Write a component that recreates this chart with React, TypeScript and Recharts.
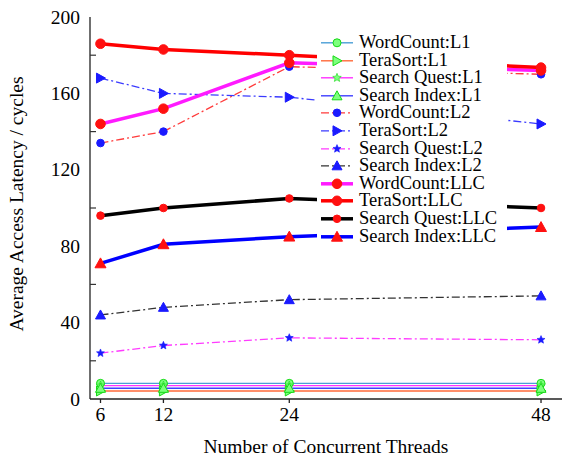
import { LineChart, Line, XAxis, YAxis, Legend } from "recharts";

const threads = [6, 12, 24, 48];

const wordCountL1 = [8.2, 8.2, 8.2, 8.2];
const teraSortL1 = [4.2, 4.2, 4.2, 4.2];
const searchQuestL1 = [7, 7, 7, 7];
const searchIndexL1 = [5.6, 5.6, 5.6, 5.6];

const wordCountL2 = [134, 140, 174, 170];
const teraSortL2 = [168, 160, 158, 144];
const searchQuestL2 = [24, 28, 32, 31];
const searchIndexL2 = [44, 48, 52, 54];

const wordCountLLC = [144, 152, 176, 172];
const teraSortLLC = [186, 183, 180, 173.5];
const searchQuestLLC = [96, 100, 105, 100];
const searchIndexLLC = [71, 81, 85, 90];

const yTicks = [0, 20, 40, 60, 80, 100, 120, 140, 160, 180, 200];

const FONT = "Liberation Serif, Tinos, DejaVu Serif, Noto Serif, serif";
const DASH = "8 3 2 3";

type Shape = "circle" | "triangle" | "right" | "star";

interface SeriesDef {
  key: string;
  name: string;
  values: number[];
  color: string;
  width: number;
  dash?: string;
  shape: Shape;
  size: number;
  fill: string;
  stroke: string;
}

const L1_FILL = "#7dff7d";
const L1_STROKE = "#16d916";

const series: SeriesDef[] = [
  { key: "wcL1", name: "WordCount:L1", values: wordCountL1, color: "#4a9fd6", width: 1.4, shape: "circle", size: 4, fill: L1_FILL, stroke: L1_STROKE },
  { key: "tsL1", name: "TeraSort:L1", values: teraSortL1, color: "#ff6a3a", width: 1.4, shape: "right", size: 5, fill: L1_FILL, stroke: L1_STROKE },
  { key: "sqL1", name: "Search Quest:L1", values: searchQuestL1, color: "#ff33ff", width: 1.4, shape: "star", size: 4.5, fill: L1_FILL, stroke: L1_STROKE },
  { key: "siL1", name: "Search Index:L1", values: searchIndexL1, color: "#3f3fff", width: 1.4, shape: "triangle", size: 5, fill: L1_FILL, stroke: L1_STROKE },
  { key: "wcL2", name: "WordCount:L2", values: wordCountL2, color: "#ff3b3b", width: 1.3, dash: DASH, shape: "circle", size: 3.8, fill: "#1a1aff", stroke: "#1a1aff" },
  { key: "tsL2", name: "TeraSort:L2", values: teraSortL2, color: "#3b3bff", width: 1.3, dash: DASH, shape: "right", size: 5, fill: "#1a1aff", stroke: "#1a1aff" },
  { key: "sqL2", name: "Search Quest:L2", values: searchQuestL2, color: "#ff3bff", width: 1.3, dash: DASH, shape: "star", size: 4.2, fill: "#1a1aff", stroke: "#1a1aff" },
  { key: "siL2", name: "Search Index:L2", values: searchIndexL2, color: "#333333", width: 1.3, dash: DASH, shape: "triangle", size: 5, fill: "#1a1aff", stroke: "#1a1aff" },
  { key: "wcLLC", name: "WordCount:LLC", values: wordCountLLC, color: "#ff1aff", width: 3.5, shape: "circle", size: 4.8, fill: "#ff1010", stroke: "#ff1010" },
  { key: "tsLLC", name: "TeraSort:LLC", values: teraSortLLC, color: "#ff0000", width: 3.5, shape: "circle", size: 4.8, fill: "#ff1010", stroke: "#ff1010" },
  { key: "sqLLC", name: "Search Quest:LLC", values: searchQuestLLC, color: "#000000", width: 3.5, shape: "circle", size: 3.8, fill: "#ff1010", stroke: "#ff1010" },
  { key: "siLLC", name: "Search Index:LLC", values: searchIndexLLC, color: "#0000ff", width: 3.5, shape: "triangle", size: 5.5, fill: "#ff1010", stroke: "#ff1010" },
];

const data = threads.map((t, i) => {
  const row: Record<string, number> = { threads: t };
  series.forEach((s) => (row[s.key] = s.values[i]));
  return row;
});

function starPath(cx: number, cy: number, r: number) {
  const pts: string[] = [];
  for (let i = 0; i < 10; i++) {
    const rad = i % 2 === 0 ? r : r * 0.45;
    const a = -Math.PI / 2 + (i * Math.PI) / 5;
    pts.push(`${cx + rad * Math.cos(a)},${cy + rad * Math.sin(a)}`);
  }
  return pts.join(" ");
}

function Marker({ cx, cy, shape, size, fill, stroke }: { cx: number; cy: number; shape: Shape; size: number; fill: string; stroke: string }) {
  if (cx == null || cy == null) return null;
  const sw = 1;
  if (shape === "circle") return <circle cx={cx} cy={cy} r={size} fill={fill} stroke={stroke} strokeWidth={sw} />;
  if (shape === "triangle") {
    const pts = `${cx},${cy - size} ${cx + size},${cy + size * 0.8} ${cx - size},${cy + size * 0.8}`;
    return <polygon points={pts} fill={fill} stroke={stroke} strokeWidth={sw} />;
  }
  if (shape === "right") {
    const pts = `${cx + size},${cy} ${cx - size * 0.8},${cy - size} ${cx - size * 0.8},${cy + size}`;
    return <polygon points={pts} fill={fill} stroke={stroke} strokeWidth={sw} />;
  }
  return <polygon points={starPath(cx, cy, size)} fill={fill} stroke={stroke} strokeWidth={0.6} />;
}

function LegendBox() {
  return (
    <div style={{ background: "#fff", fontFamily: FONT, fontSize: 18.5, color: "#000" }}>
      {series.map((s) => (
        <div key={s.key} style={{ display: "flex", alignItems: "center", height: 17.6, whiteSpace: "nowrap" }}>
          <svg width={38} height={17.6} style={{ display: "block", flex: "none" }}>
            <line x1={4} x2={36} y1={8.8} y2={8.8} stroke={s.color} strokeWidth={s.width} strokeDasharray={s.dash} />
            <Marker cx={20} cy={8.8} shape={s.shape} size={s.size} fill={s.fill} stroke={s.stroke} />
          </svg>
          <span style={{ marginLeft: 4, lineHeight: "17.6px" }}>{s.name}</span>
        </div>
      ))}
    </div>
  );
}

function YTick({ x, y, payload }: any) {
  const v = payload.value;
  if (v % 40 === 0) {
    return (
      <text x={x} y={y} dy={6.5} textAnchor="end" fontFamily={FONT} fontSize={19.5} fill="#000">
        {v}
      </text>
    );
  }
  return <line x1={x + 10} x2={x + 16} y1={y} y2={y} stroke="#333" strokeWidth={1.2} />;
}

export default function App() {
  return (
    <div style={{ position: "absolute", left: 0, top: 0, width: 565, height: 457, background: "#fff" }}>
      <LineChart width={565} height={457} data={data} margin={{ top: 17, right: 3, left: 0, bottom: 0 }}>
        <XAxis
          dataKey="threads"
          type="number"
          domain={[5, 50]}
          ticks={threads}
          allowDataOverflow
          height={58}
          tickSize={4}
          tickMargin={4}
          stroke="#222"
          strokeWidth={1.3}
          tick={{ fontFamily: FONT, fontSize: 19.5, fill: "#000" }}
          label={{
            content: () => (
              <text x={326} y={453} textAnchor="middle" fontFamily={FONT} fontSize={19.5} fill="#000">
                Number of Concurrent Threads
              </text>
            ),
          }}
        />
        <XAxis xAxisId="top" orientation="top" type="number" dataKey="threads" domain={[5, 50]} height={0} tick={false} tickLine={false} stroke="#222" strokeWidth={1.3} />
        <YAxis
          domain={[0, 200]}
          ticks={yTicks}
          interval={0}
          width={90}
          tickSize={0}
          tickMargin={10}
          tickLine={false}
          stroke="#222"
          strokeWidth={1.3}
          tick={<YTick />}
          label={{
            content: () => (
              <text transform="translate(16,204) rotate(-90)" textAnchor="middle" dominantBaseline="central" fontFamily={FONT} fontSize={19.5} fill="#000">
                Average Access Latency / cycles
              </text>
            ),
          }}
        />
        <YAxis yAxisId="right" orientation="right" domain={[0, 200]} width={0} tick={false} tickLine={false} stroke="#222" strokeWidth={1.3} />
        {series.map((s) => (
          <Line
            key={s.key}
            dataKey={s.key}
            name={s.name}
            stroke={s.color}
            strokeWidth={s.width}
            strokeDasharray={s.dash}
            isAnimationActive={false}
            dot={(p: any) => (
              <Marker key={`${s.key}-${p.index}`} cx={p.cx} cy={p.cy} shape={s.shape} size={s.size} fill={s.fill} stroke={s.stroke} />
            )}
            activeDot={false}
          />
        ))}
        <Legend
          layout="vertical"
          align="center"
          verticalAlign="middle"
          wrapperStyle={{ left: 317, top: 34, width: 190 }}
          content={() => <LegendBox />}
        />
      </LineChart>
    </div>
  );
}
